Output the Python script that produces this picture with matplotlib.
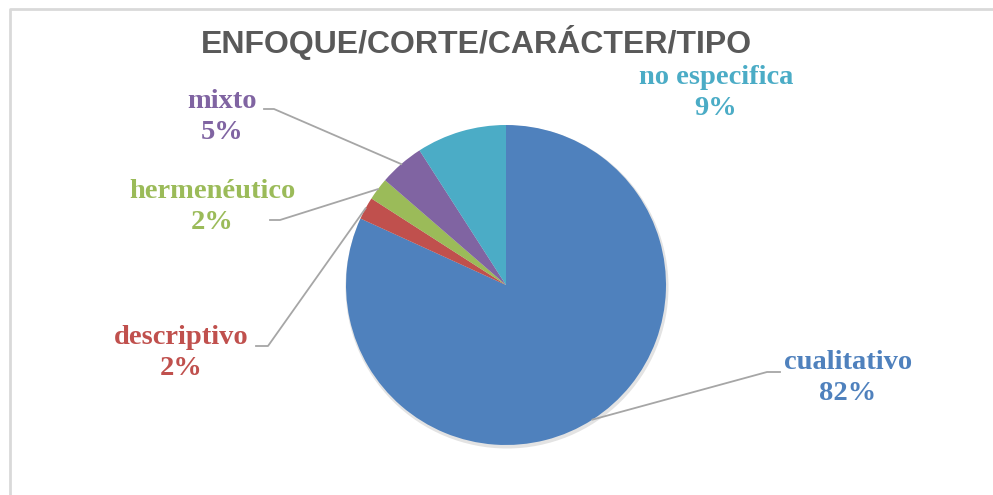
import numpy as np
import matplotlib.pyplot as plt
from matplotlib.patches import Circle

# Data
categories = ['cualitativo', 'descriptivo', 'hermenéutico', 'mixto', 'no especifica']
counts = [36, 1, 1, 2, 4]
colors = ['#4F81BD', '#C0504D', '#9BBB59', '#8064A2', '#4BACC6']
title = 'ENFOQUE/CORTE/CARÁCTER/TIPO'

W, H = 993, 495


def draw_pie():
    fig = plt.figure(figsize=(W / 100, H / 100), dpi=100)
    ax = fig.add_axes([0, 0, 1, 1])

    # chart frame (only top and left edges visible)
    ax.plot([10, 10, W], [0, H - 8.5, H - 8.5], color='#D9D9D9', lw=2, solid_capstyle='butt')

    cx, cy, r = 506, H - 285, 160
    # soft shadow under the pie
    ax.add_patch(Circle((cx + 1, cy - 2), r + 1.5, color='#E3E3E3', lw=0, zorder=0.5))
    wedges, _ = ax.pie(counts, colors=colors, startangle=90, counterclock=False,
                       center=(cx, cy), radius=r, frame=True,
                       wedgeprops=dict(linewidth=0))
    ax.set_xlim(0, W)
    ax.set_ylim(0, H)
    ax.set_aspect('equal')
    ax.axis('off')

    ax.text(476, H - 42, title, ha='center', va='center', fontsize=23,
            fontweight='bold', color='#595959', family='Liberation Sans')

    total = sum(counts)
    # label position (text centre) and leader elbow (x_start, x_end, y) per slice
    label_pos = [(848, 378), (181, 353), (212, 207), (222, 117), (716, 93)]
    elbows = [(780, 767, 372), (256, 268, 346), (270, 280, 220), (264, 274, 109), None]

    for w, name, n, col, (tx, ty), el in zip(wedges, categories, counts, colors, label_pos, elbows):
        pct = 100 * n / total
        ax.text(tx, H - ty, f'{name}\n{pct:.0f}%', ha='center', va='center',
                fontsize=20.5, fontweight='bold', color=col, family='Liberation Serif',
                linespacing=1.3)
        if el is None:
            continue
        mid = np.deg2rad((w.theta1 + w.theta2) / 2)
        ex, ey = cx + r * np.cos(mid), cy + r * np.sin(mid)
        ax.plot([el[0], el[1], ex], [H - el[2], H - el[2], ey], color='#A6A6A6', lw=1.3)

    fig.savefig('out.png', dpi=100)


if __name__ == '__main__':
    draw_pie()
